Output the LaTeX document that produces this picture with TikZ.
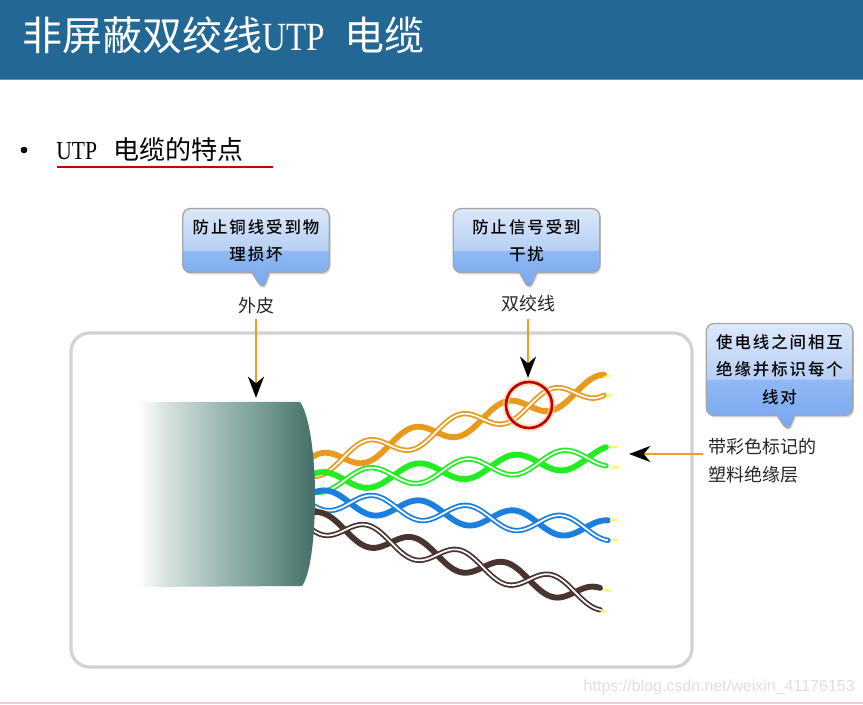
\documentclass[tikz,border=0pt]{standalone}
\usepackage{fontspec}
\usepackage{xcolor}
\usetikzlibrary{arrows.meta,shadows,shapes.callouts}
\setmainfont{Liberation Serif}
\newfontfamily\cjkfont{Noto Sans CJK SC}
\newfontfamily\tipfont[LetterSpace=12]{Noto Sans CJK SC Medium}
\newfontfamily\latinfont[FakeStretch=0.83]{Liberation Serif}
\newfontfamily\markfont{Liberation Sans}
\definecolor{bandblue}{HTML}{236794}
\definecolor{bandedge}{HTML}{5E93AE}
\definecolor{tiptop}{HTML}{DCE8FA}
\definecolor{tipmid}{HTML}{B6CFF4}
\definecolor{tipstep}{HTML}{90B9F4}
\definecolor{tipbot}{HTML}{74A5EE}
\definecolor{jacket}{HTML}{446E66}
\definecolor{jacketdark}{HTML}{6F9690}
\definecolor{jacketmid}{HTML}{9FBAB5}
\definecolor{jacketpale}{HTML}{D5E0DE}
\definecolor{wireorange}{HTML}{E89A1E}
\definecolor{wiregreen}{HTML}{22EC22}
\definecolor{wireblue}{HTML}{1B7FE0}
\definecolor{wirebrown}{HTML}{4A3430}
\definecolor{stemorange}{HTML}{EE9F20}
\definecolor{footpink}{HTML}{F6C9D2}
\pgfdeclareverticalshading{tipfill}{100bp}{color(0bp)=(tipbot); color(25bp)=(tipbot); color(49bp)=(tipstep); color(49.5bp)=(tipmid); color(75bp)=(tiptop); color(100bp)=(tiptop)}
\pgfdeclarehorizontalshading{jacketfill}{100bp}{color(0bp)=(white); color(25bp)=(white); color(33.5bp)=(jacketpale); color(47.7bp)=(jacketmid); color(62bp)=(jacketdark); color(75bp)=(jacket); color(100bp)=(jacket)}
\tikzset{
  tipbox/.style={rectangle callout, rounded corners=6pt, shading=tipfill, draw=gray!70, line width=1pt,
    minimum width=110pt, callout pointer width=13pt, align=center, inner sep=0pt,
    font=\tipfont\fontsize{12.3pt}{20.5pt}\selectfont, drop shadow={shadow xshift=1pt, shadow yshift=-1.5pt, opacity=.3}},
  partlabel/.style={font=\cjkfont\fontsize{13.5pt}{21pt}\selectfont, text=black!85, inner sep=0pt},
  stem/.style={stemorange, line width=2.1pt, -{Stealth[black,length=16pt,width=12pt,inset=5pt]}},
  wiretip/.style={line width=1.6pt, color=yellow!65!white}
}
% one twisted pair: first crossing x, y there, slope, half twist, amplitude, last x, colour
\newcommand{\twistpair}[7]{
  \draw[#7, line width=4.4pt, line cap=round] plot[domain=310:#6, samples=90, smooth] (\x,{#2+#3*(\x-#1)+#5*sin((\x-#1)/#4*180)});
  \draw[#7, line width=4pt, line cap=round] plot[domain=310:#6, samples=90, smooth] (\x,{#2+#3*(\x-#1)-#5*sin((\x-#1)/#4*180)});
  \draw[white, line width=1.3pt] plot[domain=310:#6, samples=90, smooth] (\x,{#2+#3*(\x-#1)-#5*sin((\x-#1)/#4*180)});
}
\begin{document}
\begin{tikzpicture}[x=0.75pt,y=-0.75pt]
  \useasboundingbox (0,0) rectangle (863,705);
  \fill[white] (0,0) rectangle (863,705);
  \fill[bandblue] (0,0) rectangle (863,79);
  \draw[bandedge, line width=1pt] (0,79.5) -- (863,79.5);
  \node[anchor=west, inner sep=0pt, text=white, font=\cjkfont\fontsize{30pt}{32pt}\selectfont] (title) at (22,35) {非屏蔽双绞线{\latinfont UTP}\hspace{15pt}电缆};
  \draw[footpink, line width=1.4pt] (0,703) -- (863,703);

  \filldraw[color=black] (24,150) circle (3);
  \node[anchor=west, inner sep=0pt, font=\cjkfont\fontsize{19.5pt}{21pt}\selectfont] (topic) at (56,150) {{\latinfont UTP}\hspace{12pt}电缆的特点};
  \draw[color=red!80!black, line width=1.6pt] (57,167) -- (273,167);

  % panel
  \draw[gray!35, line width=2.4pt, rounded corners=14pt] (71,333) rectangle (692,667);

  % wires
  \twistpair{343}{458}{-0.28}{46.5}{11}{604}{wireorange}
  \twistpair{345}{480}{-0.09}{48.5}{10}{606}{wiregreen}
  \twistpair{350}{503}{0.106}{47}{10}{608}{wireblue}
  \twistpair{345}{530}{0.27}{46}{11}{600}{wirebrown}
  \draw[wiretip] (604,377) -- (610,376);
  \draw[wiretip] (606,396) -- (612,395);
  \draw[wiretip] (609,447) -- (617,447);
  \draw[wiretip] (611,468) -- (619,467);
  \draw[wiretip] (610,520) -- (618,520);
  \draw[wiretip] (611,540) -- (618,540);
  \draw[wiretip] (604,590) -- (611,591);
  \draw[wiretip] (600,610) -- (606,612);

  % cable
  \shade[shading=jacketfill] (138,402) -- (300,402) .. controls (308,412) and (315,450) .. (315,495) .. controls (315,540) and (310,575) .. (302,586) -- (138,587) -- cycle;

  % ring
  \draw[orange!40, line width=5pt, opacity=.6] (529,405) circle (23);
  \draw[color=red!75!black, line width=2pt] (529,405) circle (23);

  % callouts
  \node[tipbox, minimum height=48pt, callout absolute pointer={(263,290)}] (skintip) at (256,240.5) {防止铜线受到物\\理损坏};
  \node[tipbox, minimum height=48pt, callout absolute pointer={(529,290)}] (pairtip) at (526.5,240.5) {防止信号受到\\干扰};
  \node[tipbox, minimum height=69pt, callout absolute pointer={(788,432)}] (coattip) at (779.5,369.5) {使电线之间相互\\绝缘并标识每个\\线对};

  % labels
  \node[partlabel] (skin) at (256,306) {外皮};
  \node[partlabel] (pair) at (528,304) {双绞线};
  \node[partlabel, anchor=west, align=left] (coat) at (708,461) {带彩色标记的\\塑料绝缘层};

  % arrows
  \coordinate (skinend) at (256,398);
  \coordinate (pairend) at (528,378);
  \coordinate (coatend) at (629,454);
  \coordinate (coatstart) at (703,454);
  \draw[stem] (skin.south)+(0,4) -- (skinend);
  \draw[stem] (pair.south)+(0,6) -- (pairend);
  \draw[stem] (coatstart) -- (coatend);

  \node[anchor=east, inner sep=0pt, text=gray!25, font=\markfont\fontsize{12pt}{13pt}\selectfont] (mark) at (855,687) {https://blog.csdn.net/weixin\_41176153};
\end{tikzpicture}
\end{document}
